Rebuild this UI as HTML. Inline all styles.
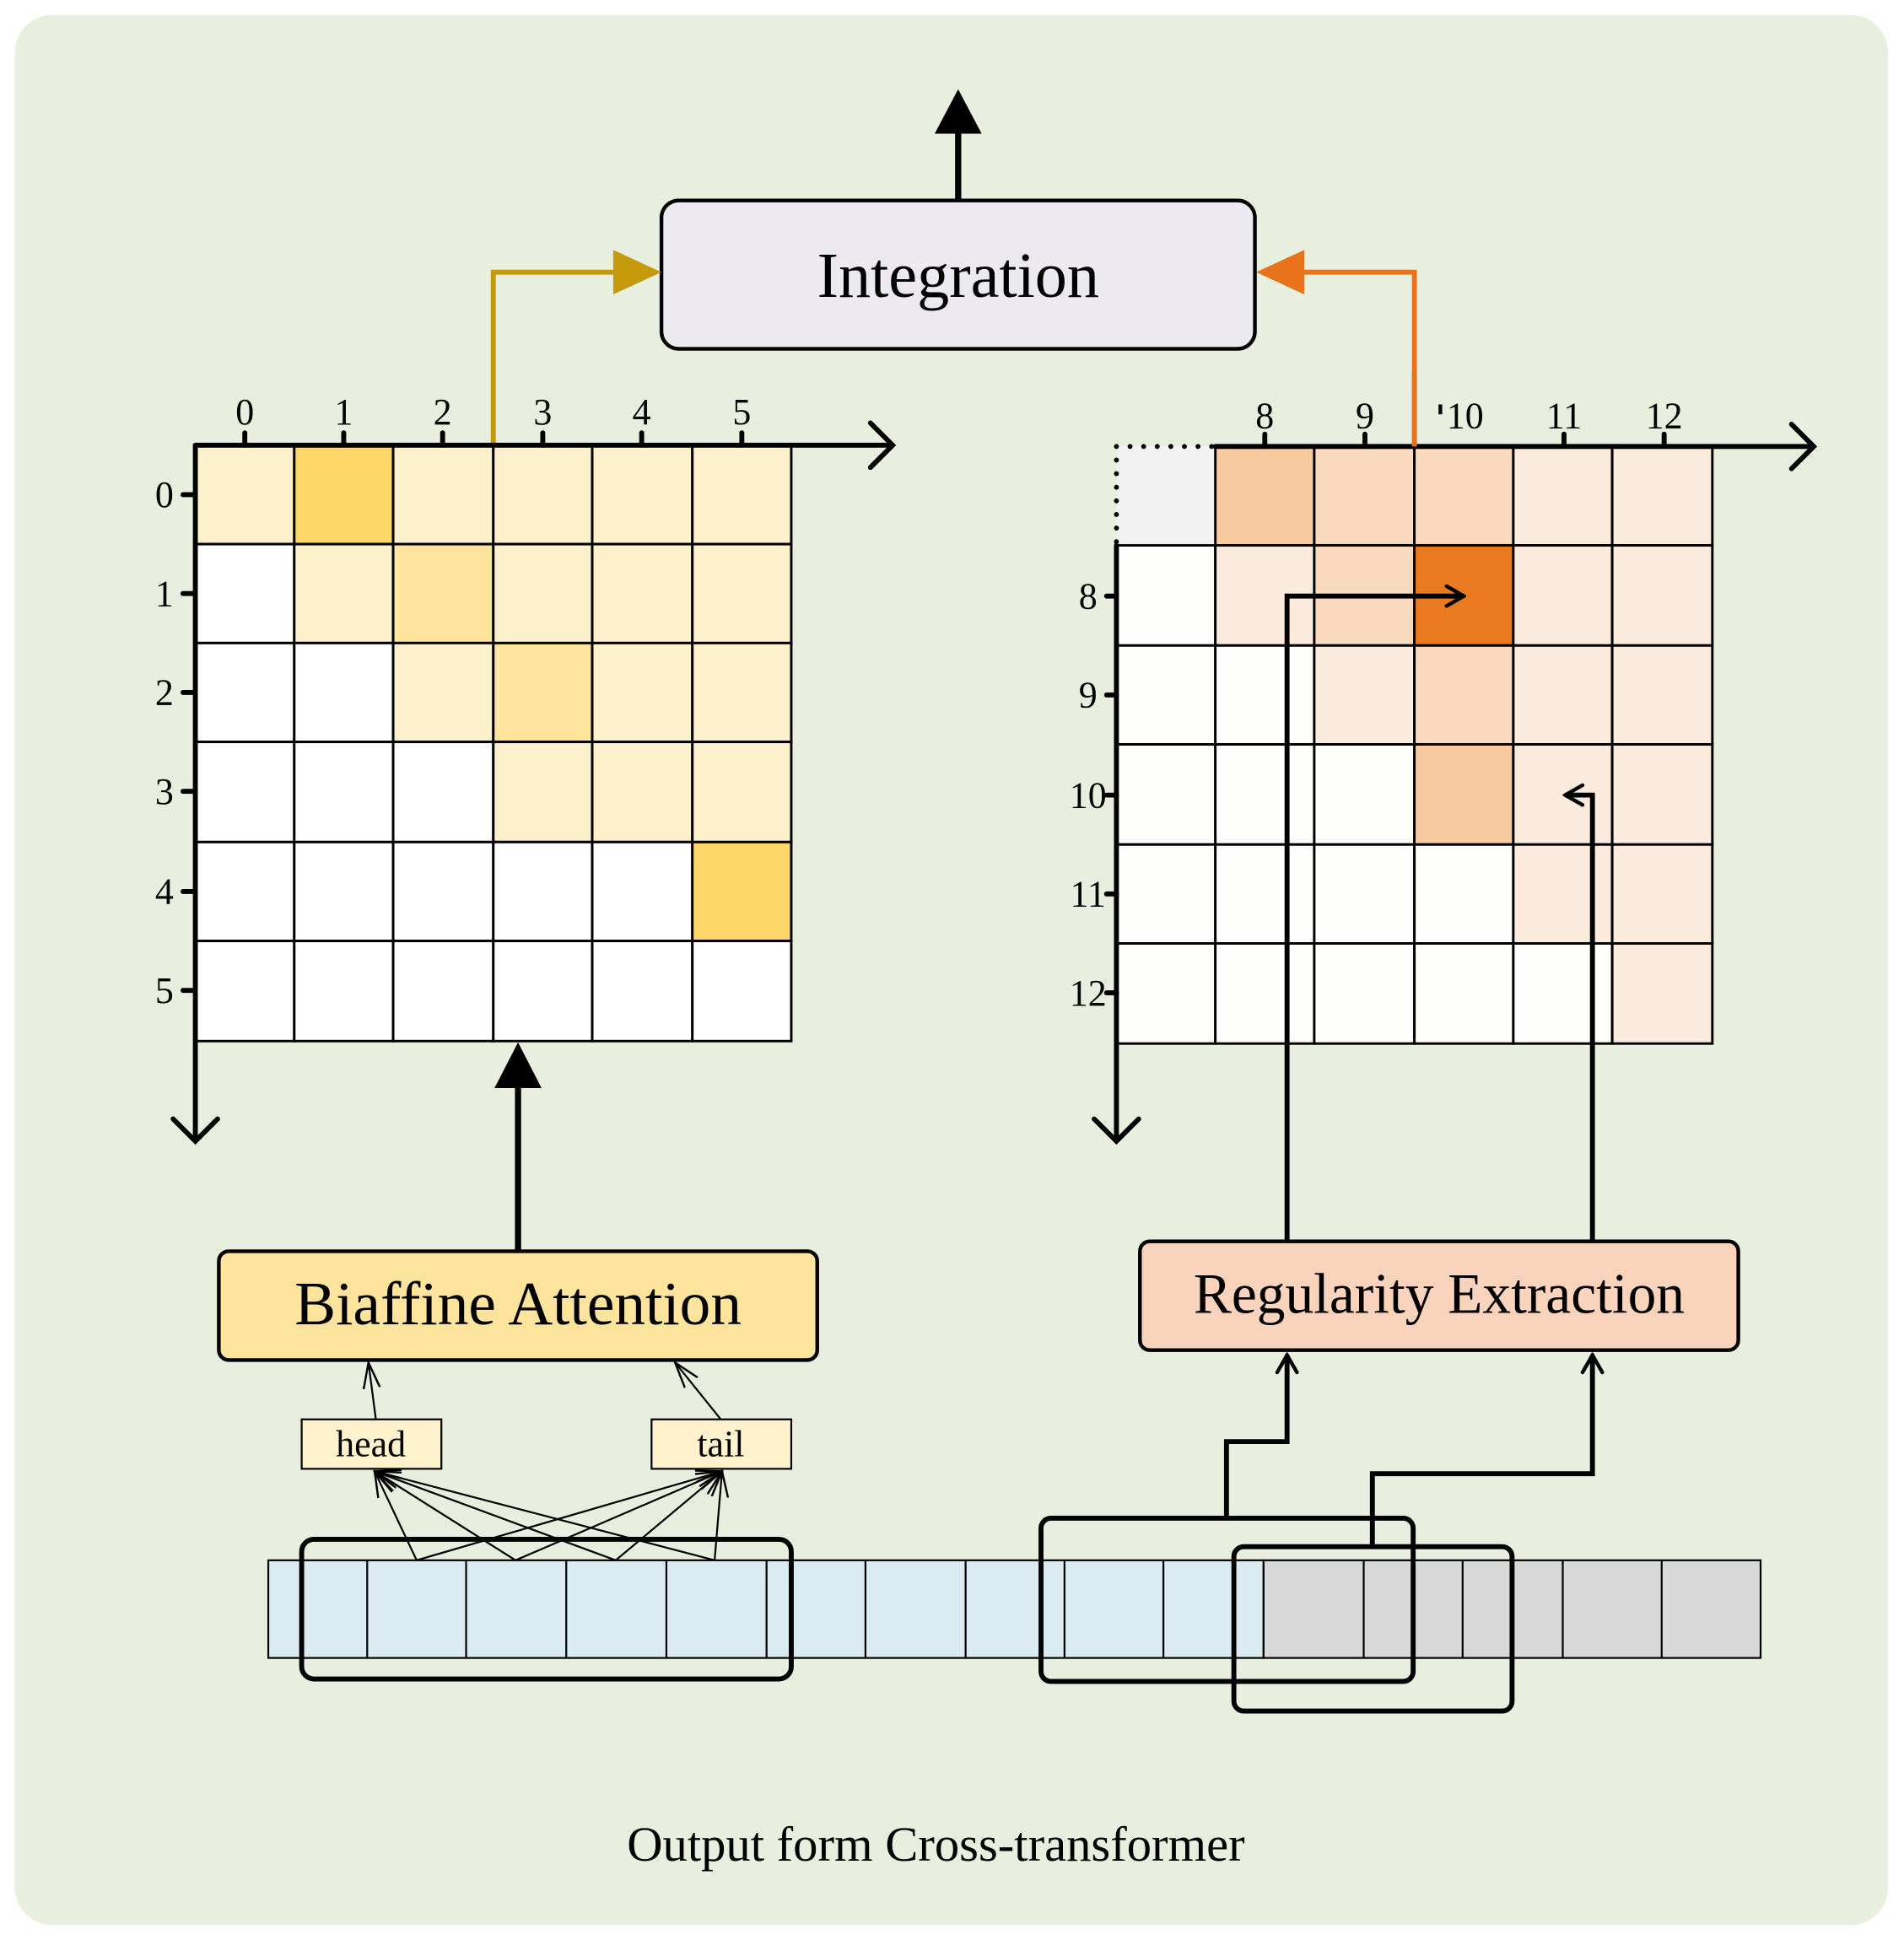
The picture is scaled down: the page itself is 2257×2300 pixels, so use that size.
<!DOCTYPE html>
<html><head><meta charset="utf-8"><style>
html,body{margin:0;padding:0;background:#fff;}
svg{display:block;}
text{font-family:"Liberation Serif",serif;}
.s{font-family:"Liberation Sans",sans-serif;}
</style></head><body>
<svg width="2257" height="2300" viewBox="0 0 1540 1569" xmlns="http://www.w3.org/2000/svg">
<defs>
<marker id="op" viewBox="0 0 20 20" refX="18" refY="10" markerWidth="20" markerHeight="20" markerUnits="userSpaceOnUse" orient="auto"><path d="M4 2 L18 10 L4 18" fill="none" stroke="#000" stroke-width="3" stroke-linecap="round"/></marker>
<marker id="thin" viewBox="0 0 20 20" refX="19" refY="10" markerWidth="22" markerHeight="22" markerUnits="userSpaceOnUse" orient="auto"><path d="M0 4 L19 10 L0 16" fill="none" stroke="#000" stroke-width="1.5"/></marker>
</defs>
<rect x="12" y="12" width="1515" height="1545" rx="30" fill="#e9efde"/>

<!-- Integration -->
<line x1="775" y1="162" x2="775" y2="105" stroke="#000" stroke-width="5"/>
<polygon points="756,108 794,108 775,72" fill="#000"/>
<rect x="535" y="162" width="480" height="120" rx="14" fill="#ece9f0" stroke="#000" stroke-width="3"/>
<text x="775" y="240" font-size="52" text-anchor="middle">Integration</text>
<polyline points="399,360 399,220 500,220" fill="none" stroke="#c49a0c" stroke-width="4"/>
<polygon points="496,202 535,220 496,238" fill="#c49a0c"/>
<polyline points="1144,361 1144,220 1052,220" fill="none" stroke="#e8731a" stroke-width="4"/>
<polygon points="1055,202 1016,220 1055,238" fill="#e8731a"/>

<!-- Left grid -->
<g stroke="#000" stroke-width="2">
<rect x="158" y="360" width="80" height="80" fill="#fdf0cc"/>
<rect x="238" y="360" width="80" height="80" fill="#fdd76a"/>
<rect x="318" y="360" width="81" height="80" fill="#fdf0cc"/>
<rect x="399" y="360" width="80" height="80" fill="#fdf0cc"/>
<rect x="479" y="360" width="81" height="80" fill="#fdf0cc"/>
<rect x="560" y="360" width="80" height="80" fill="#fdf0cc"/>
<rect x="158" y="440" width="80" height="80" fill="#fff"/>
<rect x="238" y="440" width="80" height="80" fill="#fdf0cc"/>
<rect x="318" y="440" width="81" height="80" fill="#fde49c"/>
<rect x="399" y="440" width="80" height="80" fill="#fdf0cc"/>
<rect x="479" y="440" width="81" height="80" fill="#fdf0cc"/>
<rect x="560" y="440" width="80" height="80" fill="#fdf0cc"/>
<rect x="158" y="520" width="80" height="80" fill="#fff"/>
<rect x="238" y="520" width="80" height="80" fill="#fff"/>
<rect x="318" y="520" width="81" height="80" fill="#fdf0cc"/>
<rect x="399" y="520" width="80" height="80" fill="#fde49c"/>
<rect x="479" y="520" width="81" height="80" fill="#fdf0cc"/>
<rect x="560" y="520" width="80" height="80" fill="#fdf0cc"/>
<rect x="158" y="600" width="80" height="81" fill="#fff"/>
<rect x="238" y="600" width="80" height="81" fill="#fff"/>
<rect x="318" y="600" width="81" height="81" fill="#fff"/>
<rect x="399" y="600" width="80" height="81" fill="#fdf0cc"/>
<rect x="479" y="600" width="81" height="81" fill="#fdf0cc"/>
<rect x="560" y="600" width="80" height="81" fill="#fdf0cc"/>
<rect x="158" y="681" width="80" height="80" fill="#fff"/>
<rect x="238" y="681" width="80" height="80" fill="#fff"/>
<rect x="318" y="681" width="81" height="80" fill="#fff"/>
<rect x="399" y="681" width="80" height="80" fill="#fff"/>
<rect x="479" y="681" width="81" height="80" fill="#fff"/>
<rect x="560" y="681" width="80" height="80" fill="#fdd76a"/>
<rect x="158" y="761" width="80" height="81" fill="#fff"/>
<rect x="238" y="761" width="80" height="81" fill="#fff"/>
<rect x="318" y="761" width="81" height="81" fill="#fff"/>
<rect x="399" y="761" width="80" height="81" fill="#fff"/>
<rect x="479" y="761" width="81" height="81" fill="#fff"/>
<rect x="560" y="761" width="80" height="81" fill="#fff"/>
</g>
<g stroke="#000" stroke-width="4" fill="none" stroke-linecap="round">
<line x1="158" y1="360" x2="720" y2="360"/>
<polyline points="704,342 722,360 704,378"/>
<line x1="158" y1="360" x2="158" y2="922"/>
<polyline points="140,905 158,923 176,905"/>
<line x1="198" y1="350" x2="198" y2="360"/><line x1="278" y1="350" x2="278" y2="360"/><line x1="358" y1="350" x2="358" y2="360"/><line x1="439" y1="350" x2="439" y2="360"/><line x1="519" y1="350" x2="519" y2="360"/><line x1="600" y1="350" x2="600" y2="360"/>
<line x1="148" y1="400" x2="158" y2="400"/><line x1="148" y1="480" x2="158" y2="480"/><line x1="148" y1="560" x2="158" y2="560"/><line x1="148" y1="640" x2="158" y2="640"/><line x1="148" y1="721" x2="158" y2="721"/><line x1="148" y1="801" x2="158" y2="801"/>
</g>
<g class="s" font-size="30" text-anchor="middle" font-family="Liberation Sans,sans-serif">
<text x="198" y="343">0</text><text x="278" y="343">1</text><text x="358" y="343">2</text><text x="439" y="343">3</text><text x="519" y="343">4</text><text x="600" y="343">5</text>
<text x="133" y="410">0</text><text x="133" y="490">1</text><text x="133" y="570">2</text><text x="133" y="650">3</text><text x="133" y="731">4</text><text x="133" y="811">5</text>
</g>

<!-- Right grid -->
<g stroke="#000" stroke-width="2">
<rect x="903" y="361" width="80" height="80" fill="#f2f2f2" stroke="none"/>
<rect x="983" y="361" width="80" height="80" fill="#f8caa0"/>
<rect x="1063" y="361" width="81" height="80" fill="#fadabf"/>
<rect x="1144" y="361" width="80" height="80" fill="#fadabf"/>
<rect x="1224" y="361" width="80" height="80" fill="#fbebdc"/>
<rect x="1304" y="361" width="81" height="80" fill="#fbebdc"/>
<rect x="903" y="441" width="80" height="81" fill="#fdfdfb"/>
<rect x="983" y="441" width="80" height="81" fill="#fbebdc"/>
<rect x="1063" y="441" width="81" height="81" fill="#fadabf"/>
<rect x="1144" y="441" width="80" height="81" fill="#e97a20"/>
<rect x="1224" y="441" width="80" height="81" fill="#fbebdc"/>
<rect x="1304" y="441" width="81" height="81" fill="#fbebdc"/>
<rect x="903" y="522" width="80" height="80" fill="#fdfdfb"/>
<rect x="983" y="522" width="80" height="80" fill="#fdfdfb"/>
<rect x="1063" y="522" width="81" height="80" fill="#fbebdc"/>
<rect x="1144" y="522" width="80" height="80" fill="#fadabf"/>
<rect x="1224" y="522" width="80" height="80" fill="#fbebdc"/>
<rect x="1304" y="522" width="81" height="80" fill="#fbebdc"/>
<rect x="903" y="602" width="80" height="81" fill="#fdfdfb"/>
<rect x="983" y="602" width="80" height="81" fill="#fdfdfb"/>
<rect x="1063" y="602" width="81" height="81" fill="#fdfdfb"/>
<rect x="1144" y="602" width="80" height="81" fill="#f8caa0"/>
<rect x="1224" y="602" width="80" height="81" fill="#fbebdc"/>
<rect x="1304" y="602" width="81" height="81" fill="#fbebdc"/>
<rect x="903" y="683" width="80" height="80" fill="#fdfdfb"/>
<rect x="983" y="683" width="80" height="80" fill="#fdfdfb"/>
<rect x="1063" y="683" width="81" height="80" fill="#fdfdfb"/>
<rect x="1144" y="683" width="80" height="80" fill="#fdfdfb"/>
<rect x="1224" y="683" width="80" height="80" fill="#fbebdc"/>
<rect x="1304" y="683" width="81" height="80" fill="#fbebdc"/>
<rect x="903" y="763" width="80" height="81" fill="#fdfdfb"/>
<rect x="983" y="763" width="80" height="81" fill="#fdfdfb"/>
<rect x="1063" y="763" width="81" height="81" fill="#fdfdfb"/>
<rect x="1144" y="763" width="80" height="81" fill="#fdfdfb"/>
<rect x="1224" y="763" width="80" height="81" fill="#fdfdfb"/>
<rect x="1304" y="763" width="81" height="81" fill="#fbebdc"/>
</g>
<g stroke="#000" stroke-width="4" fill="none" stroke-linecap="round">
<path d="M903 361 H983 M903 361 V441" stroke-dasharray="0 11" stroke-width="4"/>
<line x1="983" y1="361" x2="1465" y2="361"/>
<polyline points="1449,343 1467,361 1449,379"/>
<line x1="903" y1="441" x2="903" y2="922"/>
<polyline points="885,905 903,923 921,905"/>
<line x1="1023" y1="351" x2="1023" y2="361"/><line x1="1104" y1="351" x2="1104" y2="361"/><line x1="1265" y1="351" x2="1265" y2="361"/><line x1="1346" y1="351" x2="1346" y2="361"/>
<line x1="895" y1="482" x2="903" y2="482"/><line x1="895" y1="562" x2="903" y2="562"/><line x1="895" y1="643" x2="903" y2="643"/><line x1="895" y1="723" x2="903" y2="723"/><line x1="895" y1="803" x2="903" y2="803"/>
</g>
<line x1="1144" y1="361" x2="1144" y2="300" stroke="#e8731a" stroke-width="4"/>
<g font-size="30" text-anchor="middle" font-family="Liberation Sans,sans-serif">
<text x="1023" y="346">8</text><text x="1104" y="346">9</text><text x="1185" y="346">10</text><text x="1265" y="346">11</text><text x="1346" y="346">12</text>
<text x="880" y="492">8</text><text x="880" y="572">9</text><text x="880" y="653">10</text><text x="880" y="733">11</text><text x="880" y="813">12</text>
</g>
<line x1="1165" y1="327" x2="1165" y2="335" stroke="#000" stroke-width="3"/>

<!-- Biaffine -->
<line x1="419" y1="1012" x2="419" y2="878" stroke="#000" stroke-width="5"/>
<polygon points="400,880 438,880 419,843" fill="#000"/>
<rect x="177" y="1012" width="484" height="88" rx="8" fill="#fde49c" stroke="#000" stroke-width="3"/>
<text x="419" y="1071" font-size="50" text-anchor="middle">Biaffine Attention</text>

<!-- Regularity -->
<rect x="922" y="1004" width="484" height="88" rx="8" fill="#f9d3bb" stroke="#000" stroke-width="3"/>
<text x="1164" y="1062" font-size="46" text-anchor="middle">Regularity Extraction</text>
<g stroke="#000" stroke-width="4" fill="none">
<polyline points="1041,1004 1041,482 1184,482" marker-end="url(#op)"/>
<polyline points="1288,1004 1288,643 1266,643" marker-end="url(#op)"/>
<polyline points="992,1228 992,1166 1041,1166 1041,1096" marker-end="url(#op)"/>
<polyline points="1110,1250 1110,1192 1288,1192 1288,1096" marker-end="url(#op)"/>
</g>

<!-- tokens -->
<g stroke="#000" stroke-width="1.5">
<rect x="217" y="1262" width="805" height="79" fill="#daecf2"/>
<rect x="1022" y="1262" width="402" height="79" fill="#d8d8d8"/>
<path d="M297 1262V1341M377 1262V1341M458 1262V1341M539 1262V1341M620 1262V1341M700 1262V1341M781 1262V1341M861 1262V1341M941 1262V1341M1103 1262V1341M1183 1262V1341M1264 1262V1341M1344 1262V1341"/>
</g>
<g stroke="#000" stroke-width="4" fill="none">
<rect x="244" y="1245" width="396" height="113" rx="10"/>
<rect x="842" y="1228" width="301" height="132" rx="8"/>
<rect x="998" y="1251" width="225" height="133" rx="8"/>
</g>

<!-- head/tail -->
<rect x="244" y="1148" width="113" height="40" fill="#fff2cc" stroke="#000" stroke-width="1.5"/>
<rect x="527" y="1148" width="113" height="40" fill="#fff2cc" stroke="#000" stroke-width="1.5"/>
<text x="300" y="1178" font-size="30" text-anchor="middle">head</text>
<text x="583" y="1178" font-size="30" text-anchor="middle">tail</text>
<g stroke="#000" stroke-width="1.5" fill="none">
<line x1="304" y1="1148" x2="298" y2="1102" marker-end="url(#thin)"/>
<line x1="583" y1="1148" x2="546" y2="1102" marker-end="url(#thin)"/>
<line x1="337" y1="1262" x2="303" y2="1190" marker-end="url(#thin)"/>
<line x1="417" y1="1262" x2="303" y2="1190" marker-end="url(#thin)"/>
<line x1="498" y1="1262" x2="303" y2="1190" marker-end="url(#thin)"/>
<line x1="578" y1="1262" x2="303" y2="1190" marker-end="url(#thin)"/>
<line x1="337" y1="1262" x2="584" y2="1190" marker-end="url(#thin)"/>
<line x1="417" y1="1262" x2="584" y2="1190" marker-end="url(#thin)"/>
<line x1="498" y1="1262" x2="584" y2="1190" marker-end="url(#thin)"/>
<line x1="578" y1="1262" x2="584" y2="1190" marker-end="url(#thin)"/>
</g>

<text x="757" y="1505" font-size="40" text-anchor="middle">Output form Cross-transformer</text>
</svg>
</body></html>
